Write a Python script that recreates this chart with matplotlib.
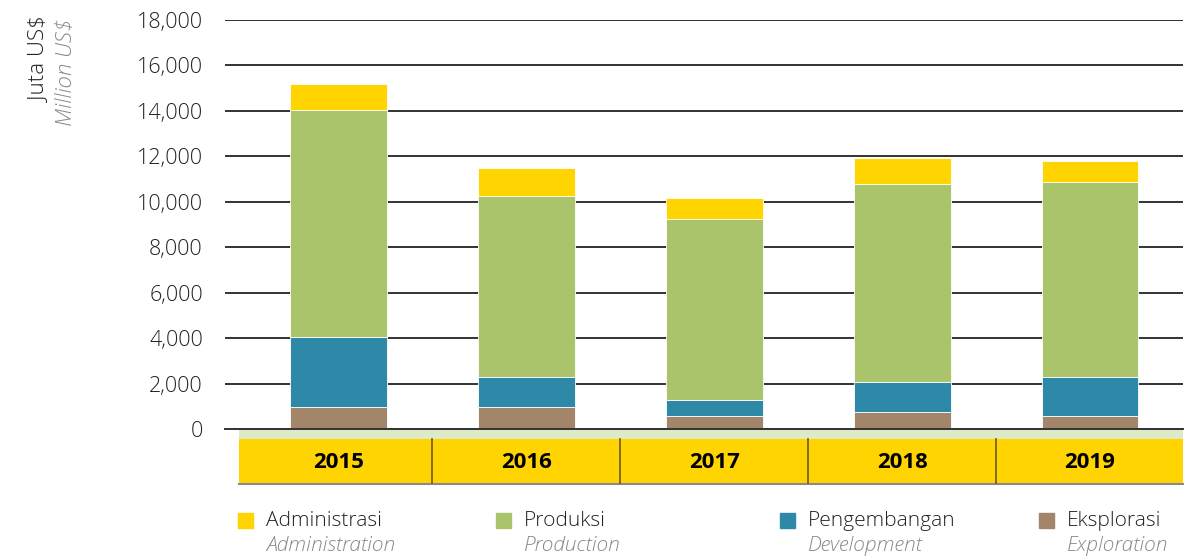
import numpy as np
import matplotlib.pyplot as plt
from matplotlib.patches import Rectangle
import matplotlib.transforms as mtransforms

years = ["2015", "2016", "2017", "2018", "2019"]
eksplorasi = [955, 970, 570, 763, 560]
pengembangan = [3080, 1320, 706, 1320, 1730]
produksi = [10005, 7965, 7964, 8717, 8597]
administrasi = [1144, 1235, 930, 1114, 923]

yticks = [0, 2000, 4000, 6000, 8000, 10000, 12000, 14000, 16000, 18000]

c_adm = "#FFD400"
c_prod = "#AAC46C"
c_dev = "#2E88A8"
c_exp = "#A3866A"

plt.rcParams['font.family'] = ['Open Sans', 'DejaVu Sans']

fig = plt.figure(figsize=(11.96, 5.59), dpi=100)
ax = fig.add_axes([225/1196, 1-429/559, (1183-225)/1196, 409/559])

x = np.arange(len(years))
w = 0.516
b1 = np.array(eksplorasi)
b2 = b1 + np.array(pengembangan)
b3 = b2 + np.array(produksi)
ax.bar(x, eksplorasi, w, color=c_exp, edgecolor="white", linewidth=0.6, zorder=3)
ax.bar(x, pengembangan, w, bottom=b1, color=c_dev, edgecolor="white", linewidth=0.6, zorder=3)
ax.bar(x, produksi, w, bottom=b2, color=c_prod, edgecolor="white", linewidth=0.6, zorder=3)
ax.bar(x, administrasi, w, bottom=b3, color=c_adm, edgecolor="white", linewidth=0.6, zorder=3)

ax.set_xlim(-0.604, 4.495)
ax.set_ylim(0, 18000)
ax.set_yticks(yticks)
ax.set_yticklabels([f"{v:,}" for v in yticks], fontsize=15.5, fontweight="light", color="#222222")
ax.tick_params(axis="y", length=0, pad=16)
ax.set_xticks([])
for s in ax.spines.values():
    s.set_visible(False)
ax.grid(axis="y", color="#333333", linewidth=1.4, zorder=1)
ax.axhline(0, color="#333333", linewidth=1.4, zorder=4, clip_on=False)

# year band under the axis
trans = mtransforms.blended_transform_factory(ax.transData, ax.transAxes)
px = 1/409
x0 = (239-338.5)/188
ax.add_patch(Rectangle((x0, -10*px), 4.495-x0, 10*px, transform=trans,
                       color="#DCEAC8", clip_on=False, zorder=2, linewidth=0))
ax.add_patch(Rectangle((x0, -54*px), 4.495-x0, 44*px, transform=trans,
                       color=c_adm, clip_on=False, zorder=2, linewidth=0))
ax.plot([x0, 4.495], [-54.5*px, -54.5*px], transform=trans, color="#8a8a8a",
        linewidth=1.5, clip_on=False, zorder=3)
for i in range(len(years) - 1):
    ax.plot([i + 0.5, i + 0.5], [-54*px, -10*px], transform=trans, color="#6b5a10",
            linewidth=1.2, clip_on=False, zorder=3)
for i, yr in enumerate(years):
    ax.text(i, -33*px, yr, transform=trans, ha="center", va="center",
            fontsize=16, fontweight="bold", color="black")

# y axis title
fig.text(40/1196, 1-60/559, "Juta US$", rotation=90, ha="center", va="center",
         fontsize=16, fontweight="light", color="#222222")
fig.text(66/1196, 1-72/559, "Million US$", rotation=90, ha="center", va="center",
         fontsize=16, fontstyle="italic", fontweight="light", color="#888888")

# legend
labels = [("Administrasi", "Administration", c_adm),
          ("Produksi", "Production", c_prod),
          ("Pengembangan", "Development", c_dev),
          ("Eksplorasi", "Exploration", c_exp)]
lx = [238, 496, 780, 1039]
for (id_lbl, en_lbl, col), xx in zip(labels, lx):
    fig.patches.append(Rectangle((xx/1196, 1-528/559), 15/1196, 15/559,
                                 transform=fig.transFigure, color=col, figure=fig))
    fig.text((xx+28)/1196, 1-521/559, id_lbl, ha="left", va="center",
             fontsize=15, fontweight="light", color="#222222")
    fig.text((xx+28)/1196, 1-546/559, en_lbl, ha="left", va="center",
             fontsize=15, fontstyle="italic", fontweight="light", color="#888888")

fig.savefig("out.png", dpi=100)
